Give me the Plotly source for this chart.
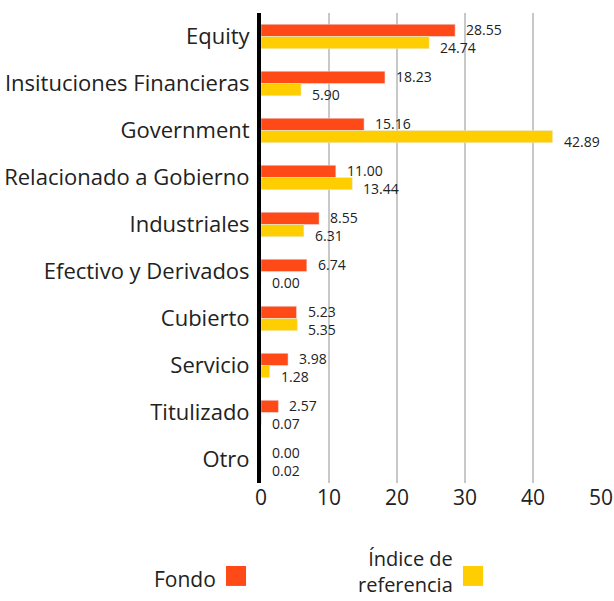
import plotly.graph_objects as go

categories = ["Equity", "Insituciones Financieras", "Government", "Relacionado a Gobierno",
              "Industriales", "Efectivo y Derivados", "Cubierto", "Servicio", "Titulizado", "Otro"]
fondo = [28.55, 18.23, 15.16, 11.00, 8.55, 6.74, 5.23, 3.98, 2.57, 0.00]
indice = [24.74, 5.90, 42.89, 13.44, 6.31, 0.00, 5.35, 1.28, 0.07, 0.02]
series_names = ["Fondo", "Índice de<br>referencia"]
x_ticks = [0, 10, 20, 30, 40, 50]

ORANGE = "#FF4A17"
YELLOW = "#FFCE00"
FONT = "Open Sans, sans-serif"
TXT = "#222222"

fig = go.Figure()
fig.add_trace(go.Bar(y=categories, x=fondo, orientation="h", marker_color=ORANGE,
                     name="Fondo", hoverinfo="x+y"))
fig.add_trace(go.Bar(y=categories, x=indice, orientation="h", marker_color=YELLOW,
                     name="Índice de referencia", hoverinfo="x+y"))

annotations = []
for c, f, i in zip(categories, fondo, indice):
    annotations.append(dict(x=f, y=c, xref="x", yref="y", text=f"{f:.2f}", showarrow=False,
                            xanchor="left", yanchor="middle", xshift=9, yshift=7,
                            font=dict(size=14, color=TXT, family=FONT)))
    annotations.append(dict(x=i, y=c, xref="x", yref="y", text=f"{i:.2f}", showarrow=False,
                            xanchor="left", yanchor="middle", xshift=9, yshift=-11,
                            font=dict(size=14, color=TXT, family=FONT)))

# custom legend (text to the left of the colour square)
annotations.append(dict(x=-0.1265, y=-0.204, xref="paper", yref="paper", text=series_names[0],
                        showarrow=False, xanchor="right", yanchor="middle",
                        font=dict(size=21, color=TXT, family=FONT)))
annotations.append(dict(x=0.5706, y=-0.249, xref="paper", yref="paper", text=series_names[1],
                        showarrow=False, xanchor="right", yanchor="bottom", align="right",
                        font=dict(size=20, color=TXT, family=FONT)))
shapes = [
    dict(type="rect", xref="paper", yref="paper", x0=-0.103, x1=-0.044, y0=-0.219, y1=-0.1766,
         fillcolor=ORANGE, line_width=0),
    dict(type="rect", xref="paper", yref="paper", x0=0.594, x1=0.653, y0=-0.219, y1=-0.1766,
         fillcolor=YELLOW, line_width=0),
]

fig.update_layout(
    width=614, height=601,
    margin=dict(l=261, r=13, t=13, b=118),
    paper_bgcolor="white", plot_bgcolor="white",
    barmode="group", bargap=0.48, bargroupgap=0,
    showlegend=False,
    font=dict(family=FONT, color=TXT),
    annotations=annotations, shapes=shapes,
    xaxis=dict(range=[0, 50], tickvals=x_ticks, showgrid=True, gridcolor="#c8c8c8", gridwidth=2,
               zeroline=False, showline=False, ticks="", tickfont=dict(size=21, color=TXT),
               fixedrange=True, automargin=False),
    yaxis=dict(autorange="reversed", showline=True, linecolor="black", linewidth=4,
               ticks="", tickfont=dict(size=22, color=TXT), showgrid=False,
               ticklabelstandoff=3, automargin=False, fixedrange=True),
)
fig.write_html("out.html", config={"displayModeBar": False},
               post_script="document.body.style.margin='0';")
